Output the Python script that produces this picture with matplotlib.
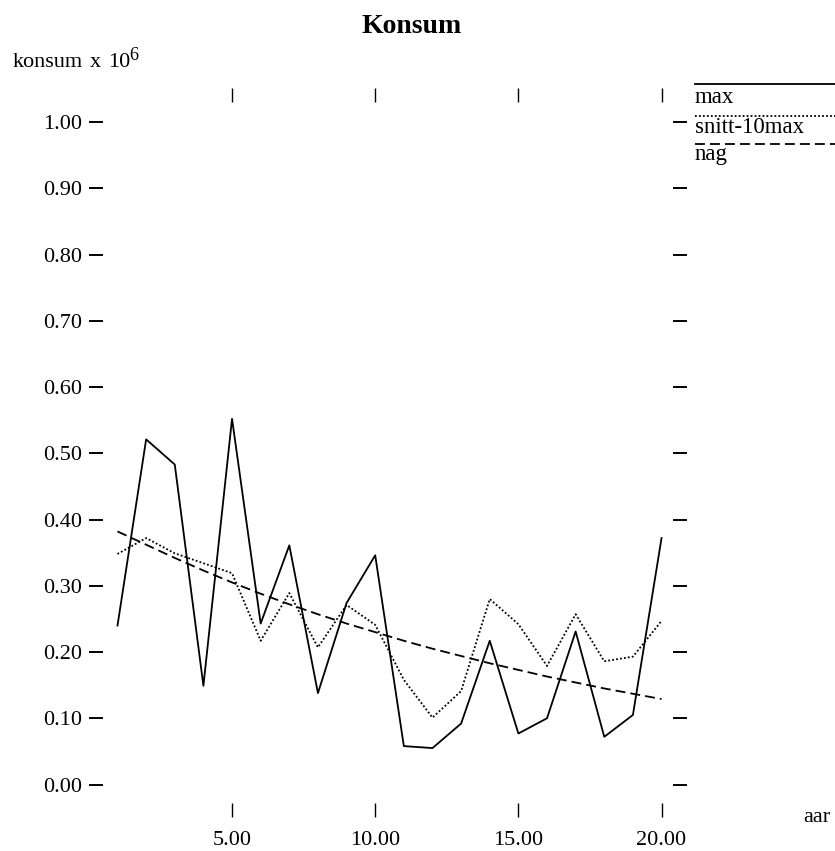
import matplotlib

matplotlib.use("Agg")
import matplotlib.pyplot as plt
from matplotlib.lines import Line2D

plt.rcParams["font.family"] = ["Liberation Serif", "DejaVu Serif"]

W, H = 835, 851

aar = list(range(1, 21))
maks = [0.240, 0.521, 0.483, 0.149, 0.552, 0.243, 0.361, 0.138, 0.274, 0.346,
        0.058, 0.055, 0.092, 0.217, 0.077, 0.100, 0.231, 0.072, 0.105, 0.372]
snitt = [0.348, 0.372, 0.349, 0.334, 0.319, 0.217, 0.289, 0.207, 0.271, 0.241,
         0.158, 0.101, 0.141, 0.280, 0.242, 0.179, 0.257, 0.186, 0.193, 0.247]
nag = [0.382, 0.362, 0.342, 0.323, 0.305, 0.288, 0.272, 0.257, 0.243, 0.230,
       0.217, 0.205, 0.194, 0.183, 0.173, 0.163, 0.154, 0.145, 0.137, 0.129]

xticks = [5, 10, 15, 20]
yticks = [0.0, 0.1, 0.2, 0.3, 0.4, 0.5, 0.6, 0.7, 0.8, 0.9, 1.0]

SOLID = "-"
DOTTED = (0, (1, 1.2))
DASHED = (0, (5.5, 2.8))
LW = 1.3


def px(x, y):
    # pixel position -> figure fraction
    return x / W, 1 - y / H


fig = plt.figure(figsize=(W / 100, H / 100), dpi=100)
ax = fig.add_axes([103 / W, 48 / H, 570 / W, 701 / H])

ax.plot(aar, maks, color="black", lw=LW, ls=SOLID)
ax.plot(aar, snitt, color="black", lw=LW, ls=DOTTED)
ax.plot(aar, nag, color="black", lw=LW, ls=DASHED)

ax.set_xlim(0.4935, 20.40)
ax.set_ylim(-0.0279, 1.0302)
for s in ax.spines.values():
    s.set_visible(False)

ax.set_xticks(xticks)
ax.set_xticklabels([f"{v:.2f}" for v in xticks])
ax.set_yticks(yticks)
ax.set_yticklabels([f"{v:.2f}" for v in yticks])
ax.tick_params(axis="both", direction="out", length=10, width=1.0,
               labelsize=16, color="black")
ax.tick_params(axis="x", top=True, pad=10)
ax.tick_params(axis="y", right=True, pad=5, width=1.4)

# titles and axis texts
fig.text(*px(412, 33), "Konsum", fontsize=20, fontweight="bold",
         ha="center", va="baseline")
fig.text(*px(13, 67), "konsum", fontsize=16, va="baseline")
fig.text(*px(90, 67), "x", fontsize=16, va="baseline")
fig.text(*px(108, 67), "10", fontsize=16, va="baseline")
fig.text(*px(129, 60), "6", fontsize=13, va="baseline")
fig.text(*px(803, 822), "aar", fontsize=16, va="baseline")

# legend drawn by hand on the right
legend = [("max", SOLID, 83.5, 103), ("snitt-10max", DOTTED, 116, 133),
          ("nag", DASHED, 143.5, 160)]
for label, ls, yl, yt in legend:
    x0, y0 = px(695, yl)
    x1, _ = px(835, yl)
    fig.add_artist(Line2D([x0, x1], [y0, y0], color="black", lw=LW, ls=ls,
                          transform=fig.transFigure))
    fig.text(*px(695, yt), label, fontsize=16.5, va="baseline")

fig.savefig("out.png", dpi=100)
